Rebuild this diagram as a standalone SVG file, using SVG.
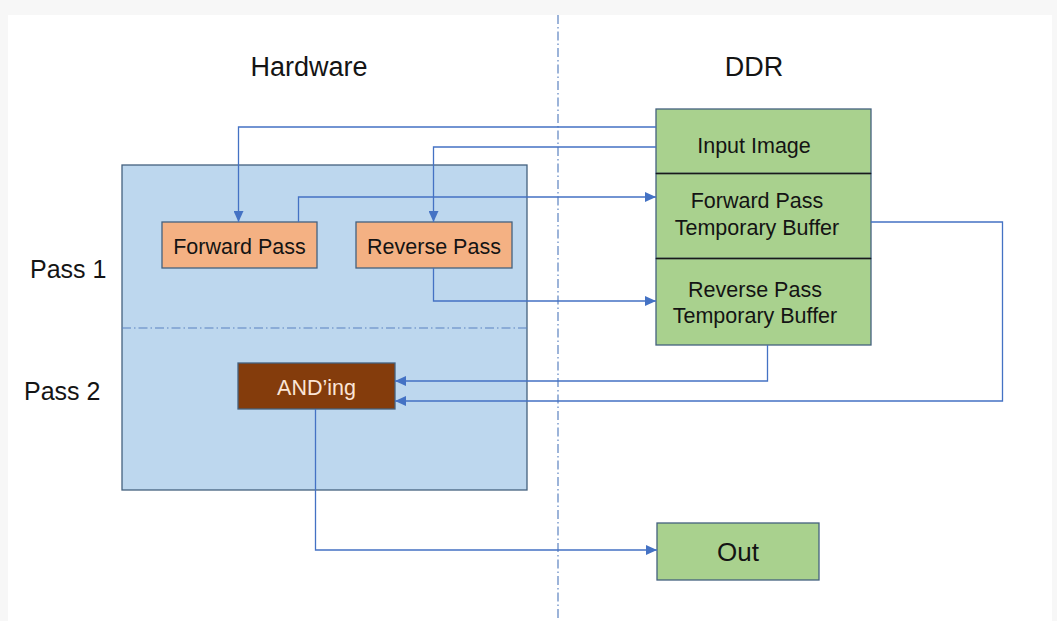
<svg xmlns="http://www.w3.org/2000/svg" width="1057" height="621" viewBox="0 0 1057 621">
  <style>
    text { font-family: "Liberation Sans", Arial, sans-serif; fill: #141414; }
    .title { font-size: 27px; text-anchor: middle; }
    .pass { font-size: 25px; }
    .lbl { font-size: 21.5px; text-anchor: middle; }
    .conn { fill: none; stroke: #4472c4; stroke-width: 1.3; }
    .box { stroke: #44617f; stroke-width: 1.3; }
    .sep { fill: none; stroke: #5b82c0; stroke-width: 1.2; stroke-dasharray: 9 3 1.5 3; }
  </style>
  <defs>
    <marker id="arrow" markerUnits="userSpaceOnUse" markerWidth="12" markerHeight="10" refX="11" refY="5" orient="auto">
      <path d="M0,0 L11,5 L0,10 Z" fill="#4472c4"/>
    </marker>
  </defs>

  <!-- page -->
  <rect x="0" y="0" width="1057" height="621" fill="#f7f7f7"/>
  <rect x="8" y="15" width="1044" height="606" fill="#ffffff"/>

  <!-- column divider -->
  <line class="sep" x1="558" y1="15" x2="558" y2="621"/>

  <text class="title" x="309" y="76">Hardware</text>
  <text class="title" x="754" y="76">DDR</text>
  <text class="pass" x="30" y="278">Pass 1</text>
  <text class="pass" x="24" y="400">Pass 2</text>

  <!-- hardware block -->
  <g id="hardware">
    <rect class="box" x="122" y="165" width="405" height="325" fill="#bdd7ee"/>
    <line class="sep" x1="122" y1="328" x2="527" y2="328" stroke="#4a70b0"/>
  </g>

  <g id="forward-pass">
    <rect class="box" x="162" y="222" width="155" height="46" fill="#f4b183"/>
    <text class="lbl" x="239.5" y="254">Forward Pass</text>
  </g>

  <g id="reverse-pass">
    <rect class="box" x="356" y="222" width="156" height="46" fill="#f4b183"/>
    <text class="lbl" x="434" y="254">Reverse Pass</text>
  </g>

  <g id="anding">
    <rect class="box" x="238" y="363" width="157" height="46" fill="#843c0c"/>
    <text class="lbl" x="316.5" y="395" style="fill:#fbe5d6">AND’ing</text>
  </g>

  <!-- DDR memory stack -->
  <g id="input-image">
    <rect x="656" y="109" width="215" height="64.5" fill="#a9d18e" stroke="#44617f" stroke-width="1.3"/>
    <text class="lbl" x="754" y="153">Input Image</text>
  </g>
  <g id="forward-buffer">
    <rect x="656" y="173.5" width="215" height="85" fill="#a9d18e" stroke="#44617f" stroke-width="1.3"/>
    <text class="lbl" x="757" y="208">Forward Pass</text>
    <text class="lbl" x="757" y="235">Temporary Buffer</text>
  </g>
  <g id="reverse-buffer">
    <rect x="656" y="258.5" width="215" height="86.5" fill="#a9d18e" stroke="#44617f" stroke-width="1.3"/>
    <text class="lbl" x="755" y="297">Reverse Pass</text>
    <text class="lbl" x="755" y="323">Temporary Buffer</text>
  </g>
  <!-- dividers between memory regions -->
  <line x1="656" y1="173.5" x2="871" y2="173.5" stroke="#1a1a1a" stroke-width="1.3"/>
  <line x1="656" y1="258.5" x2="871" y2="258.5" stroke="#1a1a1a" stroke-width="1.3"/>

  <g id="out">
    <rect class="box" x="657" y="523" width="162" height="57" fill="#a9d18e"/>
    <text class="lbl" x="738" y="561" style="font-size:26px">Out</text>
  </g>

  <!-- connectors -->
  <g id="connectors">
    <path class="conn" d="M656,127 H238.5 V222" marker-end="url(#arrow)"/>
    <path class="conn" d="M656,147 H433.5 V222" marker-end="url(#arrow)"/>
    <path class="conn" d="M298.5,222 V197 H656" marker-end="url(#arrow)"/>
    <path class="conn" d="M433.5,268 V301 H656" marker-end="url(#arrow)"/>
    <path class="conn" d="M767.5,345 V381 H395" marker-end="url(#arrow)"/>
    <path class="conn" d="M871,222 H1002.5 V401 H395" marker-end="url(#arrow)"/>
    <path class="conn" d="M315.5,409 V550 H657" marker-end="url(#arrow)"/>
  </g>
</svg>
